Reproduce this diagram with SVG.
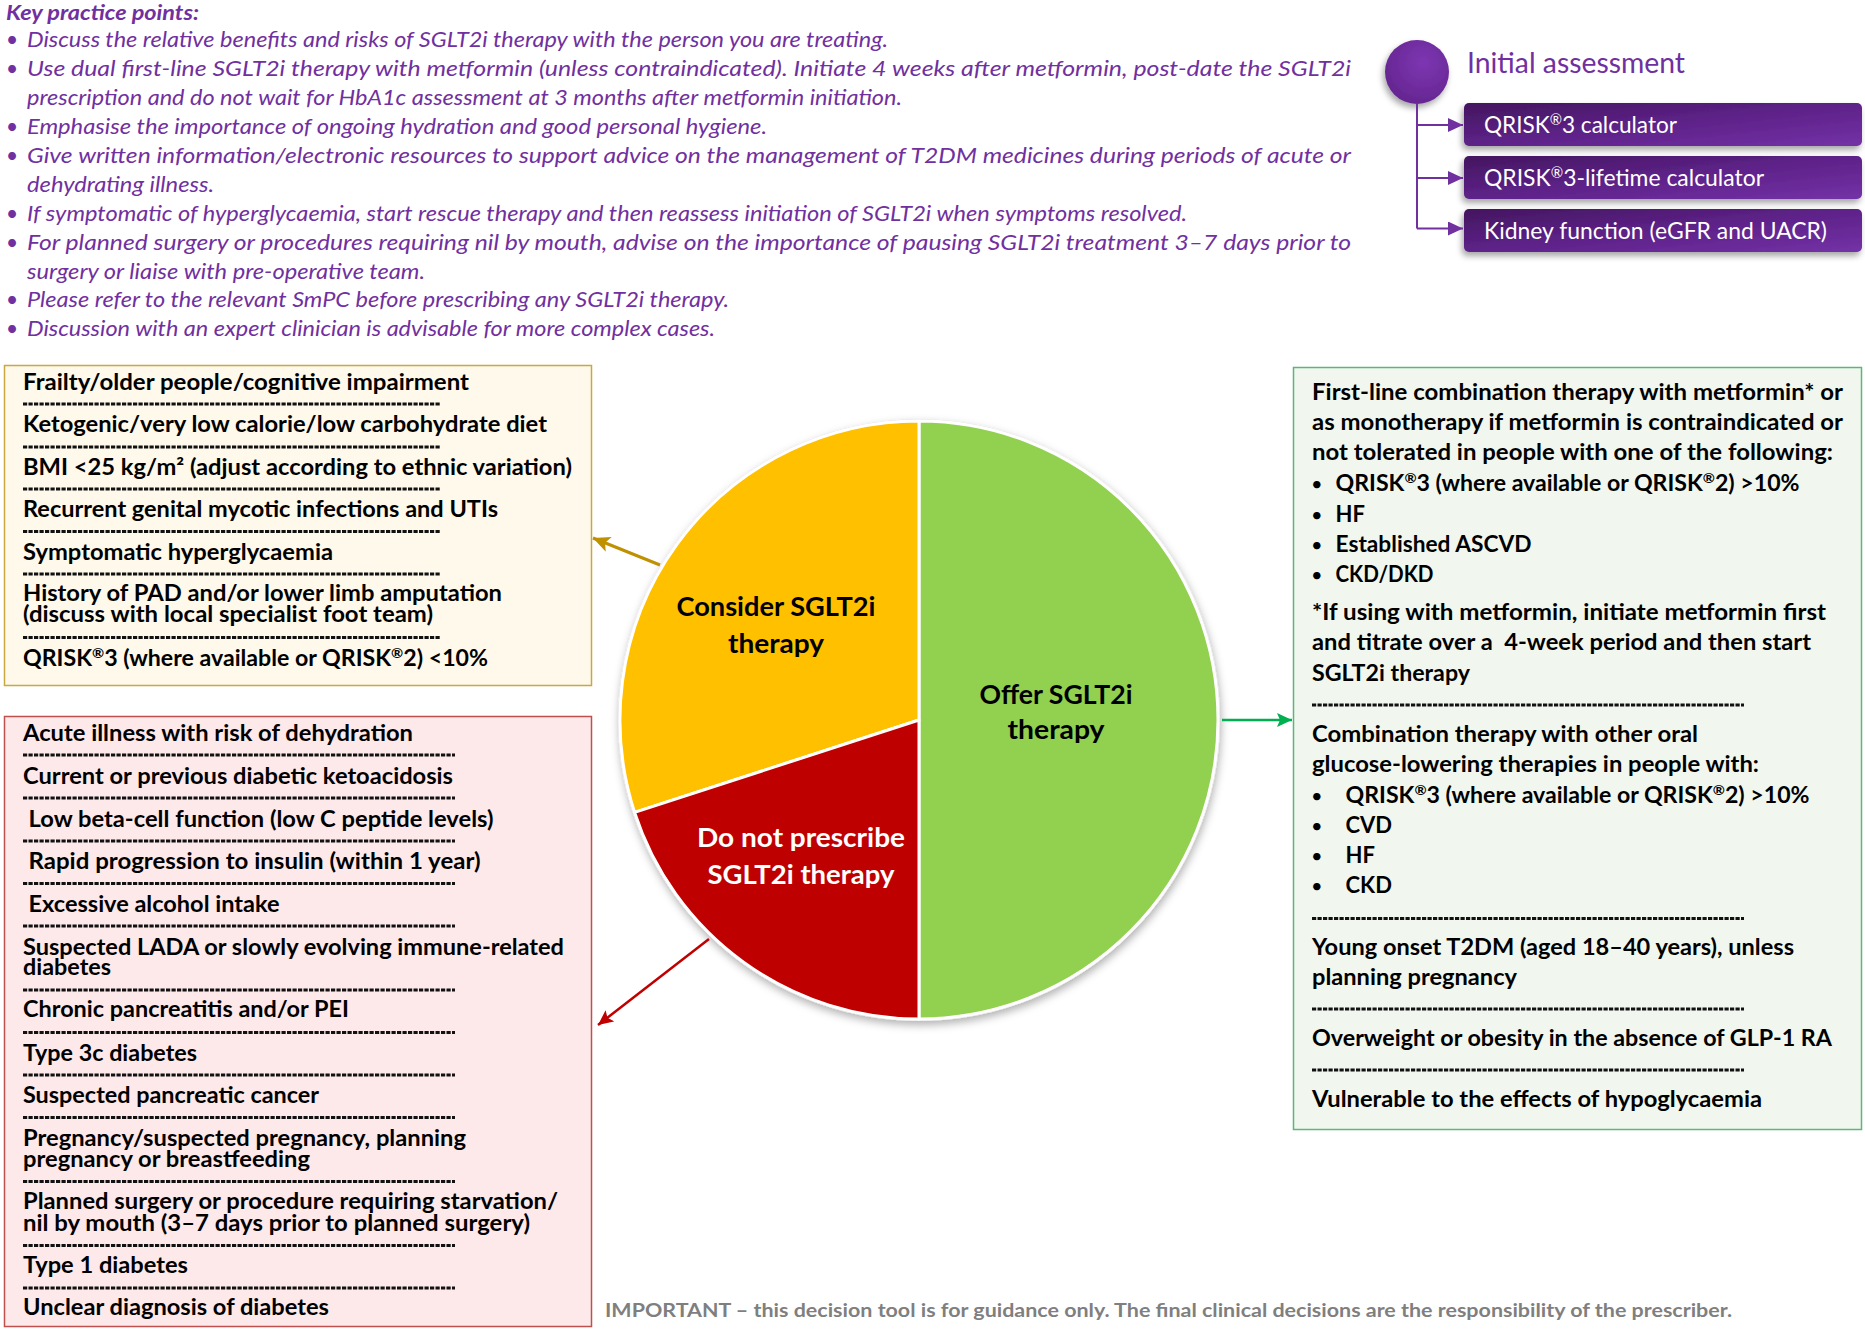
<svg xmlns="http://www.w3.org/2000/svg" width="1865" height="1332" viewBox="0 0 1865 1332">
<style>
text{font-family:Lato,"Liberation Sans","DejaVu Sans",sans-serif}
.kp{font-style:italic;font-size:21px;fill:#7030A0}
.kph{font-style:italic;font-weight:700;font-size:21px;fill:#7030A0}
.bt{font-weight:700;font-size:22px;fill:#000}
.bu{font-weight:400;font-size:20px}
.pl{font-weight:700;font-size:26px;fill:#000;text-anchor:middle}
.plw{font-weight:700;font-size:26px;fill:#fff;text-anchor:middle}
.ia{font-size:28px;fill:#7030A0}
.ib{font-size:23px;fill:#fff}
.dash{stroke:#111;stroke-width:3;stroke-dasharray:4.2 1.3;fill:none}
.ft{font-weight:700;font-size:19px;fill:#7F7F7F}
</style>
<defs>
<linearGradient id="gBox" x1="0" y1="0" x2="1" y2="1">
<stop offset="0" stop-color="#43165F"/>
<stop offset="0.5" stop-color="#5E2289"/>
<stop offset="1" stop-color="#7332A6"/>
</linearGradient>
<radialGradient id="gCirc" cx="0.6" cy="0.35" r="0.7">
<stop offset="0" stop-color="#7D36B2"/>
<stop offset="1" stop-color="#64258F"/>
</radialGradient>
<filter id="sh" x="-20%" y="-20%" width="140%" height="160%">
<feDropShadow dx="-2" dy="4" stdDeviation="3" flood-color="#000" flood-opacity="0.35"/>
</filter>
<filter id="psh" x="-10%" y="-10%" width="120%" height="120%">
<feDropShadow dx="1" dy="4" stdDeviation="4" flood-color="#000" flood-opacity="0.3"/>
</filter>
<marker id="aP" markerUnits="userSpaceOnUse" markerWidth="16" markerHeight="14" refX="15" refY="7" orient="auto"><path d="M0,0 L15,7 L0,14 Z" fill="#7030A0"/></marker>
<marker id="aY" markerUnits="userSpaceOnUse" markerWidth="18" markerHeight="16" refX="17" refY="8" orient="auto"><path d="M0,0 L17,8 L0,16 L4,8 Z" fill="#BF9000"/></marker>
<marker id="aR" markerUnits="userSpaceOnUse" markerWidth="16" markerHeight="14" refX="15" refY="7" orient="auto"><path d="M0,0 L15,7 L0,14 L3,7 Z" fill="#C00000"/></marker>
<marker id="aG" markerUnits="userSpaceOnUse" markerWidth="16" markerHeight="14" refX="15" refY="7" orient="auto"><path d="M0,0 L15,7 L0,14 L3,7 Z" fill="#00B050"/></marker>
</defs>
<rect width="1865" height="1332" fill="#fff"/>

<g id="key-practice-points">
<text class="kph" x="6" y="20" textLength="193" lengthAdjust="spacingAndGlyphs">Key practice points:</text>
<g class="kp">
<text x="6" y="47">•</text>
<text x="27" y="47" textLength="861" lengthAdjust="spacingAndGlyphs">Discuss the relative benefits and risks of SGLT2i therapy with the person you are treating.</text>
<text x="6" y="76">•</text>
<text x="27" y="76" textLength="1324" lengthAdjust="spacingAndGlyphs">Use dual first-line SGLT2i therapy with metformin (unless contraindicated). Initiate 4 weeks after metformin, post-date the SGLT2i</text>
<text x="27" y="105" textLength="875" lengthAdjust="spacingAndGlyphs">prescription and do not wait for HbA1c assessment at 3 months after metformin initiation.</text>
<text x="6" y="134">•</text>
<text x="27" y="134" textLength="740" lengthAdjust="spacingAndGlyphs">Emphasise the importance of ongoing hydration and good personal hygiene.</text>
<text x="6" y="163">•</text>
<text x="27" y="163" textLength="1324" lengthAdjust="spacingAndGlyphs">Give written information/electronic resources to support advice on the management of T2DM medicines during periods of acute or</text>
<text x="27" y="192" textLength="187" lengthAdjust="spacingAndGlyphs">dehydrating illness.</text>
<text x="6" y="221">•</text>
<text x="27" y="221" textLength="1160" lengthAdjust="spacingAndGlyphs">If symptomatic of hyperglycaemia, start rescue therapy and then reassess initiation of SGLT2i when symptoms resolved.</text>
<text x="6" y="250">•</text>
<text x="27" y="250" textLength="1324" lengthAdjust="spacingAndGlyphs">For planned surgery or procedures requiring nil by mouth, advise on the importance of pausing SGLT2i treatment 3–7 days prior to</text>
<text x="27" y="279" textLength="398" lengthAdjust="spacingAndGlyphs">surgery or liaise with pre-operative team.</text>
<text x="6" y="307">•</text>
<text x="27" y="307" textLength="702" lengthAdjust="spacingAndGlyphs">Please refer to the relevant SmPC before prescribing any SGLT2i therapy.</text>
<text x="6" y="336">•</text>
<text x="27" y="336" textLength="688" lengthAdjust="spacingAndGlyphs">Discussion with an expert clinician is advisable for more complex cases.</text>
</g>
</g>

<g id="initial-assessment">
<circle cx="1417" cy="72" r="32" fill="url(#gCirc)" filter="url(#sh)"/>
<text class="ia" x="1467" y="73" textLength="218" lengthAdjust="spacingAndGlyphs">Initial assessment</text>
</g>
<g id="qrisk3">
<rect x="1464" y="103" width="398" height="43" rx="5" fill="url(#gBox)" filter="url(#sh)"/>
<text class="ib" x="1484" y="133" textLength="193" lengthAdjust="spacingAndGlyphs">QRISK<tspan font-size="15" dy="-8">®</tspan><tspan dy="8">3 calculator</tspan></text>
</g>
<g id="qrisk3-lifetime">
<rect x="1464" y="156" width="398" height="43" rx="5" fill="url(#gBox)" filter="url(#sh)"/>
<text class="ib" x="1484" y="186" textLength="280" lengthAdjust="spacingAndGlyphs">QRISK<tspan font-size="15" dy="-8">®</tspan><tspan dy="8">3-lifetime calculator</tspan></text>
</g>
<g id="kidney-function">
<rect x="1464" y="209" width="398" height="43" rx="5" fill="url(#gBox)" filter="url(#sh)"/>
<text class="ib" x="1484" y="239" textLength="343" lengthAdjust="spacingAndGlyphs">Kidney function (eGFR and UACR)</text>
</g>

<g id="consider-box">
<rect x="4.5" y="365.5" width="587" height="320" fill="#FEF9EB" stroke="#C9A741" stroke-width="1.5"/>
<g class="bt">
<text x="23" y="390" textLength="446" lengthAdjust="spacingAndGlyphs">Frailty/older people/cognitive impairment</text>
<text x="23" y="432" textLength="524" lengthAdjust="spacingAndGlyphs">Ketogenic/very low calorie/low carbohydrate diet</text>
<text x="23" y="475" textLength="549" lengthAdjust="spacingAndGlyphs">BMI &lt;25 kg/m² (adjust according to ethnic variation)</text>
<text x="23" y="517" textLength="475" lengthAdjust="spacingAndGlyphs">Recurrent genital mycotic infections and UTIs</text>
<text x="23" y="560" textLength="310" lengthAdjust="spacingAndGlyphs">Symptomatic hyperglycaemia</text>
<text x="23" y="601" textLength="479" lengthAdjust="spacingAndGlyphs">History of PAD and/or lower limb amputation</text>
<text x="23" y="622" textLength="410" lengthAdjust="spacingAndGlyphs">(discuss with local specialist foot team)</text>
<text x="23" y="666" textLength="465" lengthAdjust="spacingAndGlyphs">QRISK<tspan font-size="14" dy="-8">®</tspan><tspan dy="8">3 (where available or QRISK</tspan><tspan font-size="14" dy="-8">®</tspan><tspan dy="8">2) &lt;10%</tspan></text>
</g>
<path class="dash" d="M23,404H440M23,447H440M23,489H440M23,531.5H440M23,574H440M23,637.5H440"/>
</g>

<g id="do-not-prescribe-box">
<rect x="4.5" y="716.5" width="587" height="610" fill="#FDE9EA" stroke="#C0504D" stroke-width="1.5"/>
<g class="bt">
<text x="23" y="741" textLength="390" lengthAdjust="spacingAndGlyphs">Acute illness with risk of dehydration</text>
<text x="23" y="784" textLength="430" lengthAdjust="spacingAndGlyphs">Current or previous diabetic ketoacidosis</text>
<text x="28.5" y="827" textLength="465" lengthAdjust="spacingAndGlyphs">Low beta-cell function (low C peptide levels)</text>
<text x="28.5" y="869" textLength="452" lengthAdjust="spacingAndGlyphs">Rapid progression to insulin (within 1 year)</text>
<text x="28.5" y="912" textLength="251" lengthAdjust="spacingAndGlyphs">Excessive alcohol intake</text>
<text x="23" y="955" textLength="541" lengthAdjust="spacingAndGlyphs">Suspected LADA or slowly evolving immune-related</text>
<text x="23" y="975" textLength="88" lengthAdjust="spacingAndGlyphs">diabetes</text>
<text x="23" y="1017" textLength="326" lengthAdjust="spacingAndGlyphs">Chronic pancreatitis and/or PEI</text>
<text x="23" y="1061" textLength="174" lengthAdjust="spacingAndGlyphs">Type 3c diabetes</text>
<text x="23" y="1103" textLength="296" lengthAdjust="spacingAndGlyphs">Suspected pancreatic cancer</text>
<text x="23" y="1146" textLength="443" lengthAdjust="spacingAndGlyphs">Pregnancy/suspected pregnancy, planning</text>
<text x="23" y="1167" textLength="287" lengthAdjust="spacingAndGlyphs">pregnancy or breastfeeding</text>
<text x="23" y="1209" textLength="535" lengthAdjust="spacingAndGlyphs">Planned surgery or procedure requiring starvation/</text>
<text x="23" y="1231" textLength="507" lengthAdjust="spacingAndGlyphs">nil by mouth (3–7 days prior to planned surgery)</text>
<text x="23" y="1273" textLength="165" lengthAdjust="spacingAndGlyphs">Type 1 diabetes</text>
<text x="23" y="1315" textLength="306" lengthAdjust="spacingAndGlyphs">Unclear diagnosis of diabetes</text>
</g>
<path class="dash" d="M23,755H455M23,798H455M23,841H455M23,883.5H455M23,926H455M23,990H455M23,1032.5H455M23,1075H455M23,1117.5H455M23,1181.5H455M23,1245.5H455M23,1288H455"/>
</g>

<g id="offer-box">
<rect x="1293.5" y="367.5" width="568" height="762" fill="#F1F7EF" stroke="#5DB57A" stroke-width="1.5"/>
<g class="bt">
<text x="1312" y="400" textLength="531" lengthAdjust="spacingAndGlyphs">First-line combination therapy with metformin* or</text>
<text x="1312" y="430" textLength="531" lengthAdjust="spacingAndGlyphs">as monotherapy if metformin is contraindicated or</text>
<text x="1312" y="460" textLength="521" lengthAdjust="spacingAndGlyphs">not tolerated in people with one of the following:</text>
<text class="bu" x="1311" y="491">•</text>
<text x="1335.5" y="491" textLength="464" lengthAdjust="spacingAndGlyphs">QRISK<tspan font-size="14" dy="-8">®</tspan><tspan dy="8">3 (where available or QRISK</tspan><tspan font-size="14" dy="-8">®</tspan><tspan dy="8">2) &gt;10%</tspan></text>
<text class="bu" x="1311" y="521.5">•</text>
<text x="1335.5" y="521.5">HF</text>
<text class="bu" x="1311" y="551.5">•</text>
<text x="1335.5" y="551.5" textLength="196" lengthAdjust="spacingAndGlyphs">Established ASCVD</text>
<text class="bu" x="1311" y="581.5">•</text>
<text x="1335.5" y="581.5" textLength="98" lengthAdjust="spacingAndGlyphs">CKD/DKD</text>
<text x="1312" y="620" textLength="514" lengthAdjust="spacingAndGlyphs">*If using with metformin, initiate metformin first</text>
<text x="1312" y="650" textLength="499" lengthAdjust="spacingAndGlyphs">and titrate over a&#160; 4-week period and then start</text>
<text x="1312" y="680.5" textLength="158" lengthAdjust="spacingAndGlyphs">SGLT2i therapy</text>
<text x="1312" y="741.5" textLength="386" lengthAdjust="spacingAndGlyphs">Combination therapy with other oral</text>
<text x="1312" y="771.5" textLength="447" lengthAdjust="spacingAndGlyphs">glucose-lowering therapies in people with:</text>
<text class="bu" x="1311" y="803">•</text>
<text x="1345.5" y="803" textLength="464" lengthAdjust="spacingAndGlyphs">QRISK<tspan font-size="14" dy="-8">®</tspan><tspan dy="8">3 (where available or QRISK</tspan><tspan font-size="14" dy="-8">®</tspan><tspan dy="8">2) &gt;10%</tspan></text>
<text class="bu" x="1311" y="833">•</text>
<text x="1345.5" y="833">CVD</text>
<text class="bu" x="1311" y="863">•</text>
<text x="1345.5" y="863">HF</text>
<text class="bu" x="1311" y="893">•</text>
<text x="1345.5" y="893">CKD</text>
<text x="1312" y="955" textLength="482" lengthAdjust="spacingAndGlyphs">Young onset T2DM (aged 18–40 years), unless</text>
<text x="1312" y="985" textLength="205" lengthAdjust="spacingAndGlyphs">planning pregnancy</text>
<text x="1312" y="1046" textLength="520" lengthAdjust="spacingAndGlyphs">Overweight or obesity in the absence of GLP-1 RA</text>
<text x="1312" y="1106.5" textLength="450" lengthAdjust="spacingAndGlyphs">Vulnerable to the effects of hypoglycaemia</text>
</g>
<path class="dash" d="M1312,705H1744M1312,918.5H1744M1312,1009H1744M1312,1070H1744"/>
</g>

<g id="pie">
<circle cx="919" cy="720" r="300.5" fill="#fff" stroke="#E4E4E4" stroke-width="1" filter="url(#psh)"/>
<g stroke="#fff" stroke-width="3" stroke-linejoin="round">
<path id="slice-offer" d="M919,720 L919,421 A299,299 0 0 1 919,1019 Z" fill="#92D050"/>
<path id="slice-consider" d="M919,720 L919,421 A299,299 0 0 0 634.6,812.4 Z" fill="#FFC000"/>
<path id="slice-donot" d="M919,720 L634.6,812.4 A299,299 0 0 0 919,1019 Z" fill="#BF0000"/>
</g>
<text class="pl" x="776" y="616" textLength="199" lengthAdjust="spacingAndGlyphs">Consider SGLT2i</text>
<text class="pl" x="776" y="653" textLength="96" lengthAdjust="spacingAndGlyphs">therapy</text>
<text class="pl" x="1056" y="704" textLength="153" lengthAdjust="spacingAndGlyphs">Offer SGLT2i</text>
<text class="pl" x="1056" y="739" textLength="97" lengthAdjust="spacingAndGlyphs">therapy</text>
<text class="plw" x="801" y="847" textLength="208" lengthAdjust="spacingAndGlyphs">Do not prescribe</text>
<text class="plw" x="801" y="884" textLength="187" lengthAdjust="spacingAndGlyphs">SGLT2i therapy</text>
</g>

<g id="connectors" fill="none">
<path d="M1417,104V228.5" stroke="#7030A0" stroke-width="2"/>
<path d="M1417,125H1463" stroke="#7030A0" stroke-width="2" marker-end="url(#aP)"/>
<path d="M1417,178H1463" stroke="#7030A0" stroke-width="2" marker-end="url(#aP)"/>
<path d="M1417,228.5H1463" stroke="#7030A0" stroke-width="2" marker-end="url(#aP)"/>
<path d="M660,565 L593,538" stroke="#BF9000" stroke-width="3" marker-end="url(#aY)"/>
<path d="M709,939 L598,1025" stroke="#C00000" stroke-width="2.5" marker-end="url(#aR)"/>
<path d="M1222,720 L1292,720" stroke="#00B050" stroke-width="2.5" marker-end="url(#aG)"/>
</g>

<text class="ft" x="605" y="1317" textLength="1127" lengthAdjust="spacingAndGlyphs">IMPORTANT – this decision tool is for guidance only. The final clinical decisions are the responsibility of the prescriber.</text>
</svg>
